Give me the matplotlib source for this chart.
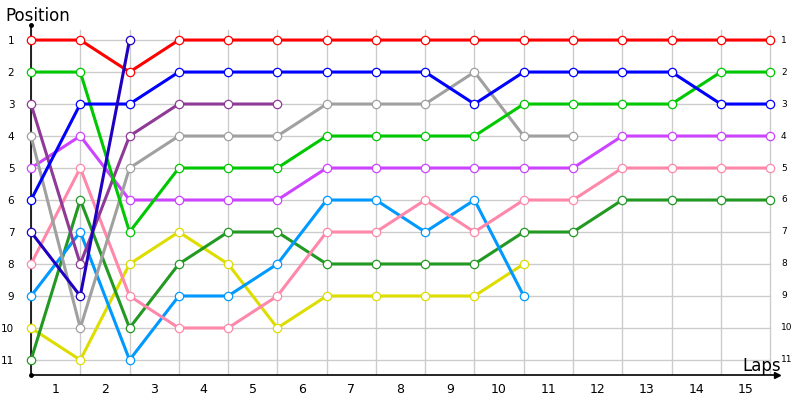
import matplotlib
matplotlib.use('Agg')
import matplotlib.pyplot as plt
from matplotlib.transforms import blended_transform_factory

# Position of each driver after each lap (lap 0 = start)
red = [1, 1, 2, 1, 1, 1, 1, 1, 1, 1, 1, 1, 1, 1, 1, 1]
green = [2, 2, 7, 5, 5, 5, 4, 4, 4, 4, 3, 3, 3, 3, 2, 2]
blue = [6, 3, 3, 2, 2, 2, 2, 2, 2, 3, 2, 2, 2, 2, 3, 3]
navy = [7, 9, 1]
purple = [3, 8, 4, 3, 3, 3]
gray = [4, 10, 5, 4, 4, 4, 3, 3, 3, 2, 4, 4]
violet = [5, 4, 6, 6, 6, 6, 5, 5, 5, 5, 5, 5, 4, 4, 4, 4]
pink = [8, 5, 9, 10, 10, 9, 7, 7, 6, 7, 6, 6, 5, 5, 5, 5]
lightblue = [9, 7, 11, 9, 9, 8, 6, 6, 7, 6, 9]
darkgreen = [11, 6, 10, 8, 7, 7, 8, 8, 8, 8, 7, 7, 6, 6, 6, 6]
yellow = [10, 11, 8, 7, 8, 10, 9, 9, 9, 9, 8]

series = [
    (yellow, '#dddd00'),
    (darkgreen, '#229922'),
    (lightblue, '#0099ff'),
    (pink, '#ff88aa'),
    (violet, '#cc44ff'),
    (gray, '#a0a0a0'),
    (purple, '#8e3a96'),
    (green, '#00c800'),
    (blue, '#0000ff'),
    (red, '#ff0000'),
    (navy, '#2000c0'),
]

laps = list(range(1, 16))
positions = list(range(1, 12))

fig = plt.figure(figsize=(8, 4), dpi=100)
ax = fig.add_axes([31 / 800, 25 / 400, 746 / 800, 350 / 400])

for vals, col in series:
    ax.plot(range(len(vals)), vals, color=col, linewidth=2.2,
            marker='o', markersize=6, markerfacecolor='white',
            markeredgecolor=col, markeredgewidth=0.9, clip_on=False, zorder=3)

ax.set_xlim(0, 15.14)
ax.set_ylim(11.47, 0.53)

# grid
for p in positions:
    ax.plot([0, 15], [p, p], color='#cccccc', linewidth=1, zorder=1)
for i in range(16):
    ax.axvline(i, ymin=0, ymax=(11.47 - 0.68) / (11.47 - 0.53),
               color='#cccccc', linewidth=1, zorder=1)

ax.spines['top'].set_visible(False)
ax.spines['right'].set_visible(False)
ax.spines['left'].set_linewidth(1.2)
ax.spines['bottom'].set_linewidth(1.2)

ax.set_xticks([l - 0.5 for l in laps])
ax.set_xticklabels([str(l) for l in laps], fontsize=9)
ax.set_yticks(positions)
ax.set_yticklabels([str(p) for p in positions], fontsize=7.5)
ax.tick_params(length=0, pad=6)
ax.tick_params(axis='y', pad=12)

# right-side position labels
tr = blended_transform_factory(ax.transAxes, ax.transData)
for p in positions:
    ax.text(1.0 + 4 / 746, p, str(p), transform=tr, fontsize=6.5,
            ha='left', va='center')

# axis decorations
ax.plot([0], [0.53], marker='o', markersize=2.5, color='black',
        clip_on=False, zorder=5)
ax.plot([0], [11.47], marker='o', markersize=2.5, color='black',
        clip_on=False, zorder=5)
ax.plot([15.14], [11.47], marker='>', markersize=5, color='black',
        clip_on=False, zorder=5)

fig.text(5 / 800, 1 - 16 / 400, 'Position', fontsize=12, ha='left',
         va='center')
fig.text(742 / 800, 1 - 366 / 400, 'Laps', fontsize=12, ha='left',
         va='center')

fig.savefig('out.png', dpi=100)
